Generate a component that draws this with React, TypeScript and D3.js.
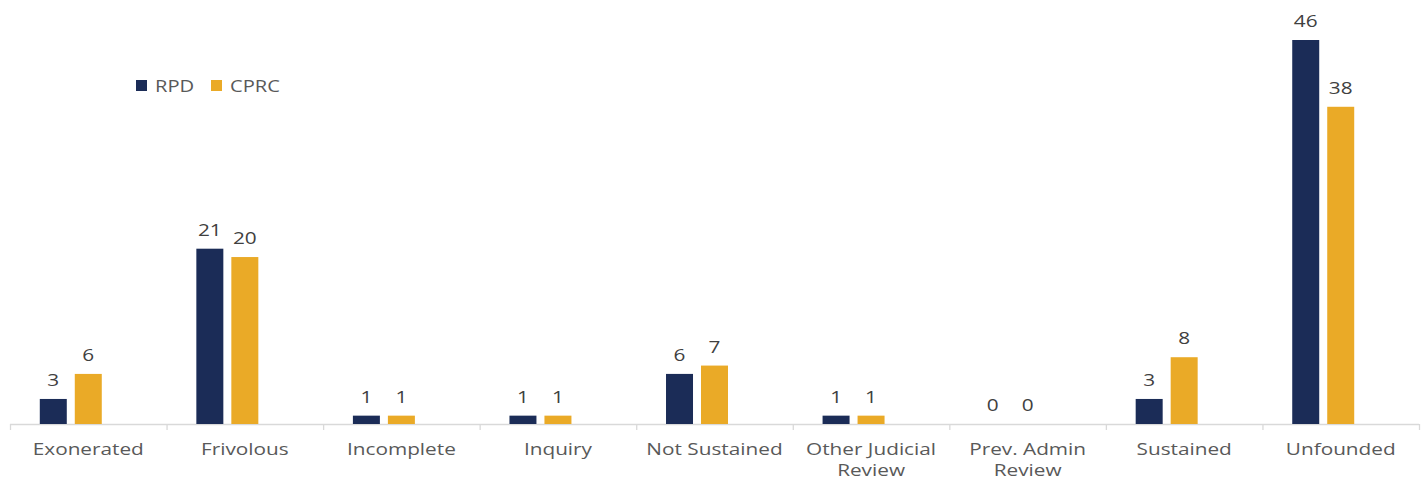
import React from "react";
import * as d3 from "d3";

const categories = [
  ["Exonerated"],
  ["Frivolous"],
  ["Incomplete"],
  ["Inquiry"],
  ["Not Sustained"],
  ["Other Judicial", "Review"],
  ["Prev. Admin", "Review"],
  ["Sustained"],
  ["Unfounded"],
];
const seriesNames = ["RPD", "CPRC"];
const rpdValues = [3, 21, 1, 1, 6, 1, 0, 3, 46];
const cprcValues = [6, 20, 1, 1, 7, 1, 0, 8, 38];
const colors = ["#1b2c57", "#eaaa27"];

const W = 1425;
const H = 479;
const SX = 1.26;

function T({ x, y, anchor = "middle", size, fill, children }: any) {
  return (
    <text
      transform={`translate(${x},${y}) scale(${SX},1)`}
      textAnchor={anchor}
      fontFamily="'Open Sans', sans-serif"
      fontSize={size}
      fill={fill}
    >
      {children}
    </text>
  );
}

export default function App() {
  const keys = categories.map((c) => c.join(" "));
  const x0 = d3.scaleBand().domain(keys).range([10, 1419]).paddingInner(0).paddingOuter(0);
  // three slots per category; the third one is left empty as in the original layout
  const x1 = d3
    .scaleBand()
    .domain([...seriesNames, "slot3"])
    .range([0, x0.bandwidth()])
    .paddingInner(8 / 35)
    .paddingOuter(0.5 * (156.6 - 97) / 35);
  const y = d3.scaleLinear().domain([0, 46]).range([424, 40]);
  const series = [rpdValues, cprcValues];

  return (
    <svg width={W} height={H} style={{ position: "absolute", left: 0, top: 0, background: "#fff" }}>
      <line x1={10} x2={1419} y1={424.5} y2={424.5} stroke="#d9d9d9" strokeWidth={1.3} />
      {[...keys.map((k) => x0(k) as number), 1419].map((tx, i) => (
        <line key={i} x1={tx + 0.5} x2={tx + 0.5} y1={424} y2={430} stroke="#d9d9d9" strokeWidth={1.3} />
      ))}
      {series.map((vals, si) =>
        vals.map((v, ci) => {
          const bx = (x0(keys[ci]) as number) + (x1(seriesNames[si]) as number);
          const bw = x1.bandwidth();
          return (
            <g key={`${si}-${ci}`}>
              {v > 0 && <rect x={bx} y={y(v)} width={bw} height={y(0) - y(v)} fill={colors[si]} />}
              <T x={bx + bw / 2} y={y(v) - 13} size={16.5} fill="#404040">
                {v}
              </T>
            </g>
          );
        })
      )}
      {categories.map((lines, ci) =>
        lines.map((l, li) => (
          <T
            key={`${ci}-${li}`}
            x={(x0(keys[ci]) as number) + x0.bandwidth() / 2}
            y={455 + li * 21}
            size={16.5}
            fill="#595959"
          >
            {l}
          </T>
        ))
      )}
      {seriesNames.map((s, i) => {
        const lx = [136, 211][i];
        return (
          <g key={s}>
            <rect x={lx} y={80} width={11} height={11} fill={colors[i]} />
            <T x={lx + 19} y={91.5} anchor="start" size={16} fill="#595959">
              {s}
            </T>
          </g>
        );
      })}
    </svg>
  );
}
